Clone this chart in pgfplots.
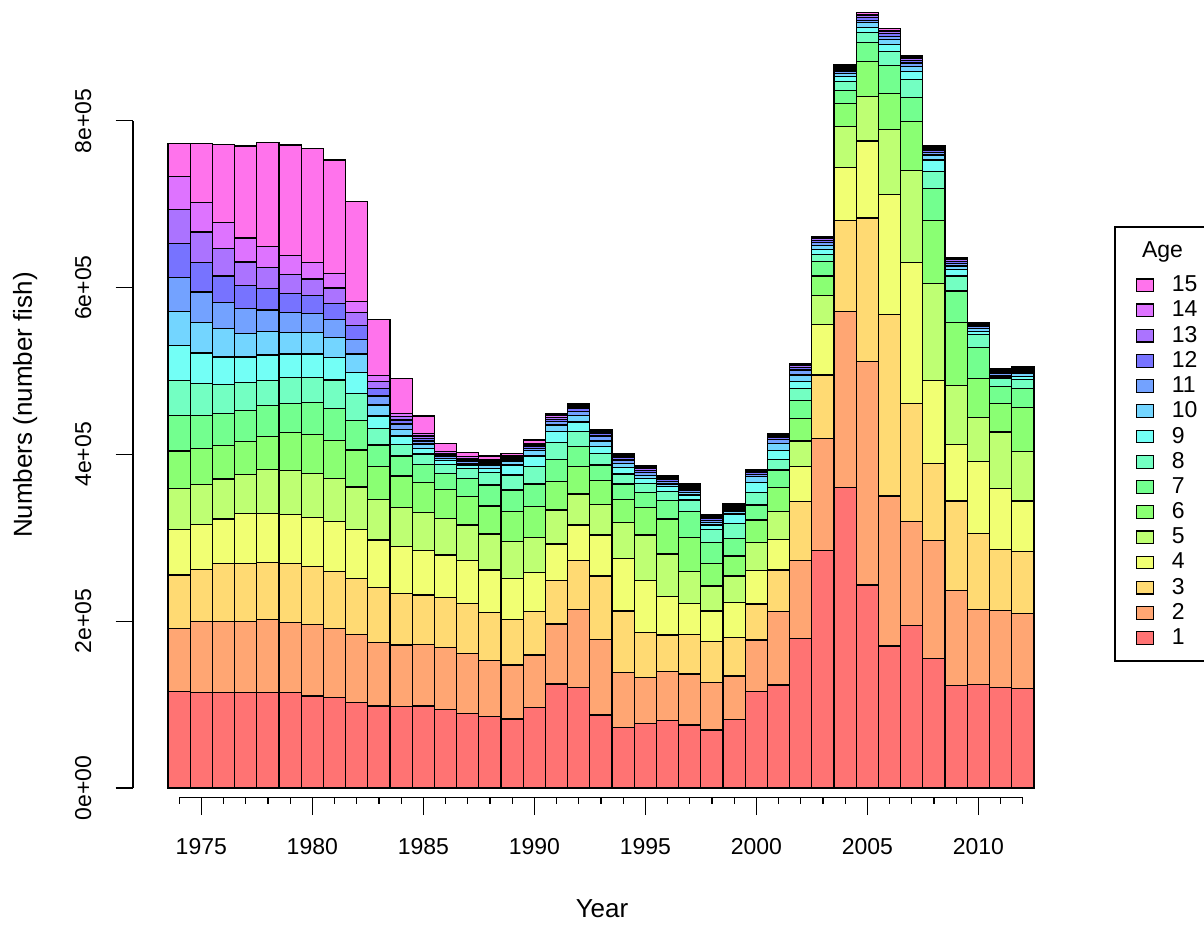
\documentclass[border=0pt]{standalone}
\usepackage{fontspec}
\setmainfont{Liberation Sans}
\usepackage{pgfplots}
\usepackage{pgfplotstable}
\pgfplotsset{compat=1.18}

\definecolor{a1}{HTML}{FF7373}
\definecolor{a2}{HTML}{FFA673}
\definecolor{a3}{HTML}{FFDA73}
\definecolor{a4}{HTML}{F1FF73}
\definecolor{a5}{HTML}{BEFF73}
\definecolor{a6}{HTML}{8AFF73}
\definecolor{a7}{HTML}{73FF8F}
\definecolor{a8}{HTML}{73FFC2}
\definecolor{a9}{HTML}{73FFF6}
\definecolor{a10}{HTML}{73D5FF}
\definecolor{a11}{HTML}{73A2FF}
\definecolor{a12}{HTML}{7773FF}
\definecolor{a13}{HTML}{AB73FF}
\definecolor{a14}{HTML}{DE73FF}
\definecolor{a15}{HTML}{FF73EC}

% cumulative numbers at the top of each age group (c1 = age 1, c15 = total)
\pgfplotstableread{
year c1 c2 c3 c4 c5 c6 c7 c8 c9 c10 c11 c12 c13 c14 c15
1974 115800 191500 255500 310000 358900 404200 447100 488900 530300 571100 612500 652900 693200 733500 772800
1975 114400 200000 262100 316100 363900 406700 447100 484900 521700 558600 594800 630100 666700 702300 773000
1976 114400 200000 269600 322500 370500 410800 448600 483900 516700 550500 582300 614000 646800 678100 771300
1977 114400 200000 269600 329100 375500 415800 452200 486400 516700 545400 574700 602400 630700 659400 769800
1978 114400 201600 270600 329100 381500 421900 458800 488900 519200 547000 573100 598900 624100 649300 773900
1979 114100 198900 269300 328400 380600 426300 461200 492300 520400 545900 570600 593000 615800 638100 771000
1980 110400 195700 265500 324700 377300 423900 462100 492300 520400 545900 569200 590200 610200 630200 767000
1981 108500 191000 260000 319100 371200 416900 455200 489100 516200 540400 561300 580900 599500 617300 753000
1982 102500 184100 251600 309700 361000 405300 441100 472800 498400 520400 538000 554300 569700 583700 703400
1983 98300 174700 240600 297400 346200 385300 411300 431300 446000 459200 470000 479200 487200 494400 561300
1984 97500 171500 233400 289300 336100 374100 398100 412100 422100 430100 436500 441200 445200 449200 491200
1985 98300 172300 231400 284500 330500 366500 388100 400500 407300 412500 416100 419300 422100 425300 446000
1986 94300 168700 228200 279400 323300 358100 377300 388100 392500 395300 397300 399300 401300 403300 413300
1987 89500 161500 221400 272600 315300 349300 371300 383300 387300 389300 391300 393300 395300 397300 402200
1988 85500 152700 210200 261400 304500 338100 363300 378100 383300 387300 389300 391000 392500 394100 398100
1989 82700 147500 202300 251400 295400 331300 357300 375300 387300 391700 393300 394900 396500 398100 401300
1990 96300 159500 211400 258200 300600 337300 364500 385300 398100 404500 407300 409300 411300 413300 417300
1991 124700 196600 248600 292600 333300 367300 394100 414100 427300 435300 439200 442000 444400 446800 448400
1992 120700 214200 272600 315300 352500 385300 409300 427300 438800 446800 451700 455600 458100 459700 461300
1993 87500 178300 254200 303400 340100 368500 387300 401300 409300 416100 422100 425300 426900 428100 429300
1994 72300 138300 212200 275400 318100 346200 364500 376500 384500 389300 393300 396100 397700 399300 400500
1995 77500 132700 186200 248600 303400 336100 354100 365300 371300 374900 378100 380900 382900 384500 386100
1996 80700 139500 183500 229400 280600 322500 344500 355300 361300 364500 367300 369700 371700 373300 374500
1997 75500 136700 184300 221400 259400 300600 331300 345300 351300 354500 357300 359700 361700 363300 364500
1998 69500 126300 175400 212200 242200 269400 294200 310100 315300 318100 320500 322900 324500 326100 327300
1999 82300 134300 180700 222200 254200 278200 299400 317300 328500 332100 334500 336500 338100 339300 340500
2000 115500 177500 220600 260600 294600 321300 339300 354100 366100 373300 376100 378100 379700 380900 382100
2001 123500 211400 261400 298200 331300 360500 381300 394100 404500 413300 418100 420900 422500 424100 425300
2002 179500 272600 343300 385300 416100 443200 464400 479200 487200 495200 501200 504300 506300 507900 509200
2003 284900 419500 495100 555400 590400 614000 630900 639900 646000 650200 653800 656200 658700 660000 661100
2004 360400 571700 680400 743600 792700 821100 836200 847000 853100 856700 859700 862100 863900 865700 867500
2005 243300 511400 683500 775800 828900 871200 893500 905600 911600 917700 920700 923700 926100 927900 929700
2006 170300 350100 567500 711200 789100 833100 866300 883200 891700 897800 901400 904400 906800 908600 910400
2007 194400 320000 460700 629700 740800 798700 828300 849400 859100 865100 869400 872400 874800 876600 878400
2008 155200 297000 389400 489000 604900 680400 718500 739600 752900 758900 761900 764300 766200 768000 769800
2009 122500 236700 344100 412300 483000 558400 595900 614000 621800 626000 629100 631500 633300 634500 635700
2010 123700 214300 304900 391200 443800 490800 528300 543400 547600 551200 553000 554800 556000 557200 558400
2011 120700 212500 285600 359200 426900 460700 481200 490900 492700 494500 496900 498700 499900 501100 502300
2012 118900 209500 283700 344100 403200 455800 478800 490200 493300 496900 498700 501100 502900 504100 505300
}\data

\pgfplotsset{
  seg/.style={ybar, bar width=1, bar shift=0pt, fill=#1, draw=black, line width=0.6pt,
    legend image code/.code={\draw[fill=#1, draw=black, line width=0.6pt] (0pt,-3.175pt) rectangle (8.5pt,3.175pt);}},
}

\begin{document}
\begin{tikzpicture}
\begin{axis}[
  name=ax,
  scale only axis,
  width=456pt, height=398.85pt,
  xmin=1971.923, xmax=2013.0,
  ymin=-11630, ymax=944844,
  axis lines*=left,
  axis line style={draw=none},
  clip=false,
  tick align=outside,
  major tick length=8.75pt,
  minor tick length=3pt,
  tick style={black, line width=0.6pt},
  xtick={1975,1980,...,2010},
  xticklabels={1975,1980,1985,1990,1995,2000,2005,2010},
  minor xtick={1974,...,2012},
  ytick={0,200000,400000,600000,800000},
  yticklabels={0e+00,2e+05,4e+05,6e+05,8e+05},
  scaled y ticks=false,
  tick label style={font=\fontsize{11.5}{13}\selectfont},
  xticklabel style={anchor=north, inner sep=0pt, yshift=-11.55pt},
  yticklabel style={inner sep=0pt, xshift=-11.9pt, rotate=90, anchor=south},
  xlabel={Year},
  ylabel={Numbers (number fish)},
  label style={font=\fontsize{13}{15}\selectfont},
  xlabel style={at={(axis description cs:0.5143,-0.139)}, anchor=center},
  ylabel style={at={(axis description cs:-0.1184,0.4923)}, anchor=center},
  legend cell align=left,
  legend style={at={(axis description cs:1.0995,0.6546)}, anchor=north west,
    draw=none, fill=none, inner sep=0pt,
    font=\fontsize{11.5}{13}\selectfont, row sep=3.12pt, nodes={inner sep=0pt},
    /tikz/every odd column/.append style={column sep=8.75pt}},
]
\addplot[seg=a15] table[x=year, y=c15] {\data}; \addlegendentry{15}
\addplot[seg=a14] table[x=year, y=c14] {\data}; \addlegendentry{14}
\addplot[seg=a13] table[x=year, y=c13] {\data}; \addlegendentry{13}
\addplot[seg=a12] table[x=year, y=c12] {\data}; \addlegendentry{12}
\addplot[seg=a11] table[x=year, y=c11] {\data}; \addlegendentry{11}
\addplot[seg=a10] table[x=year, y=c10] {\data}; \addlegendentry{10}
\addplot[seg=a9] table[x=year, y=c9] {\data}; \addlegendentry{9}
\addplot[seg=a8] table[x=year, y=c8] {\data}; \addlegendentry{8}
\addplot[seg=a7] table[x=year, y=c7] {\data}; \addlegendentry{7}
\addplot[seg=a6] table[x=year, y=c6] {\data}; \addlegendentry{6}
\addplot[seg=a5] table[x=year, y=c5] {\data}; \addlegendentry{5}
\addplot[seg=a4] table[x=year, y=c4] {\data}; \addlegendentry{4}
\addplot[seg=a3] table[x=year, y=c3] {\data}; \addlegendentry{3}
\addplot[seg=a2] table[x=year, y=c2] {\data}; \addlegendentry{2}
\addplot[seg=a1] table[x=year, y=c1] {\data}; \addlegendentry{1}
\draw[line width=0.6pt] (axis cs:1974,-11630) -- (axis cs:2012,-11630);
\draw[line width=0.6pt] (axis cs:1971.923,0) -- (axis cs:1971.923,800000);
\end{axis}
\begin{scope}[shift={(ax.north west)}, xshift=-66.5pt, x=0.5pt, y=-0.5pt]
\draw[line width=0.6pt] (1115,227) rectangle (1260,661);
\node[anchor=base west, inner sep=0pt, font=\fontsize{11.5}{13}\selectfont] at (1141.7,258) {Age};
\pgfresetboundingbox
\path (0,0) rectangle (1204,926);
\end{scope}
\end{tikzpicture}
\end{document}
